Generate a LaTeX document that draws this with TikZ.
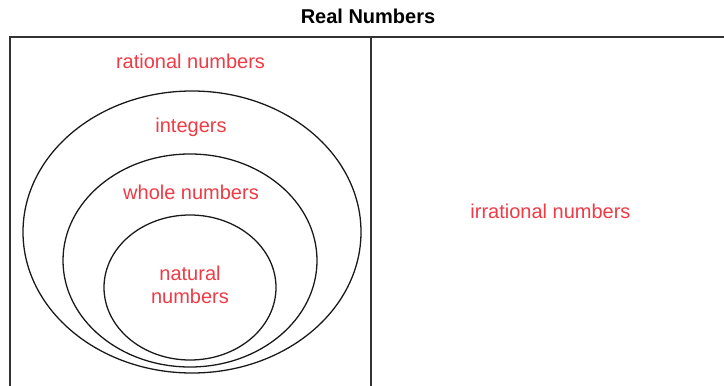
\documentclass[tikz,border=0pt]{standalone}
\usepackage{fontspec}
\setmainfont{Liberation Sans}
\usetikzlibrary{positioning}
\definecolor{setred}{HTML}{EE3B45}

\begin{document}
\begin{tikzpicture}[x=0.7pt, y=-0.7pt, every node/.style={inner sep=0pt},
                    setlabel/.style={text=setred, font=\fontsize{14}{16.1}\selectfont, anchor=base, align=center},
                    setline/.style={black!90, line width=0.9pt},
                    boxline/.style={black!80, line width=1pt}]
  \useasboundingbox (0,0) rectangle (724,385);
  \node (title) [anchor=base, font=\fontsize{14}{16.1}\selectfont\bfseries] at (368,24) {Real Numbers};
  % the box, open at right and bottom
  \draw[boxline] (10,386) -- (10,37) -- (725,37);
  \draw[boxline] (371,37) -- (371,386);
  % nested sets
  \draw[setline] (192,232) ellipse [x radius=169, y radius=141];
  \draw[setline] (190,260.5) ellipse [x radius=127, y radius=106.5];
  \draw[setline] (190,287.5) ellipse [x radius=86, y radius=72.5];
  \node (rational)   [setlabel] at (190.5,69)  {rational numbers};
  \node (integers)   [setlabel] at (191,132)   {integers};
  \node (whole)      [setlabel] at (191,199)   {whole numbers};
  \node (natural)    [setlabel] at (190,303)   {natural\\numbers};
  \node (irrational) [setlabel] at (550.5,218) {irrational numbers};
\end{tikzpicture}
\end{document}
